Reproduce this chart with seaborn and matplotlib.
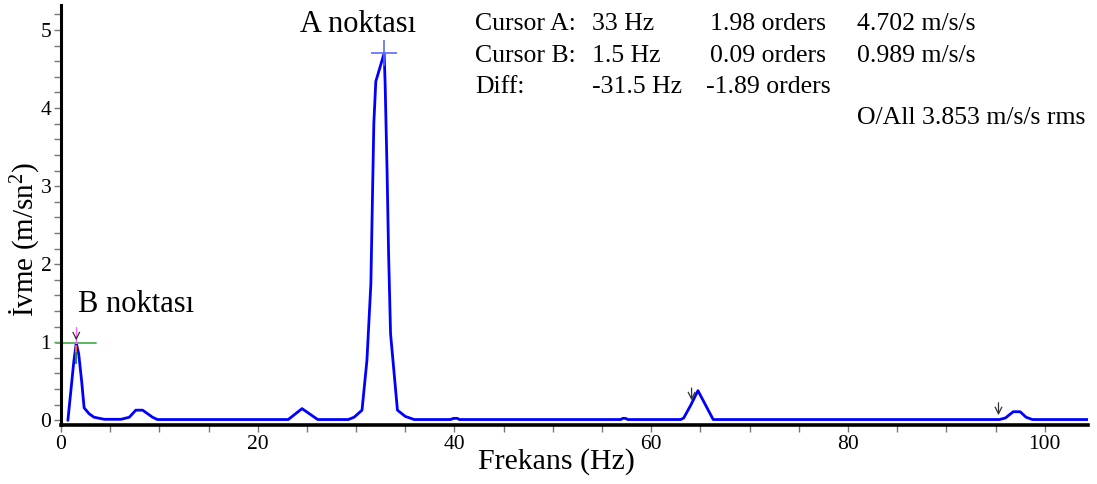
import numpy as np
import pandas as pd
import matplotlib
matplotlib.use("Agg")
import matplotlib.pyplot as plt
import seaborn as sns

# ---- data ----
freq_hz = [0.7, 1.3, 1.55, 1.8, 2.1, 2.35, 2.85, 3.35, 4.4, 6.1, 6.95, 7.6, 8.3, 9.3, 9.8,
           23.1, 24.5, 26.1, 29.2, 29.8, 30.6, 31.1, 31.5, 31.65, 31.8, 32.0, 32.85, 32.95,
           33.15, 33.3, 33.5, 34.2, 35.0, 35.9, 39.6, 39.9, 40.3, 40.5, 56.9, 57.1, 57.4,
           57.6, 63.0, 63.3, 64.0, 64.75, 66.3, 95.4, 96.0, 96.8, 97.5, 98.1, 98.75, 104.4]
accel = [0.0, 0.75, 0.99, 0.85, 0.50, 0.16, 0.085, 0.04, 0.013, 0.013, 0.04, 0.13, 0.13, 0.04, 0.01,
         0.01, 0.15, 0.01, 0.01, 0.04, 0.13, 0.77, 1.75, 2.78, 3.80, 4.34, 4.702, 4.31,
         3.17, 2.14, 1.11, 0.13, 0.05, 0.01, 0.01, 0.025, 0.025, 0.01, 0.01, 0.025, 0.025,
         0.01, 0.01, 0.03, 0.19, 0.38, 0.01, 0.01, 0.03, 0.11, 0.11, 0.04, 0.01, 0.01]

cursor_a = (32.85, 4.702)
cursor_b = (1.55, 0.989)
arrow_freqs = [64.1, 95.3]
arrow_tops = [0.45, 0.26]
arrow_bottoms = [0.22, 0.03]

x_ticks = [0, 20, 40, 60, 80, 100]
y_ticks = [0, 1, 2, 3, 4, 5]

cursor_rows = [
    ["Cursor A:", "33 Hz", "1.98 orders", "4.702 m/s/s"],
    ["Cursor B:", "1.5 Hz", "0.09 orders", "0.989 m/s/s"],
    ["Diff:", "-31.5 Hz", "-1.89 orders", ""],
]
overall_text = "O/All 3.853 m/s/s rms"

df = pd.DataFrame({"Frekans": freq_hz, "Ivme": accel})

sns.set_theme(style="ticks")
plt.rcParams["font.family"] = ["Liberation Serif", "DejaVu Serif"]
plt.rcParams["mathtext.fontset"] = "custom"
plt.rcParams["mathtext.rm"] = "Liberation Serif"
plt.rcParams["mathtext.it"] = "Liberation Serif:italic"
plt.rcParams["text.color"] = "black"
plt.rcParams["axes.labelcolor"] = "black"
plt.rcParams["xtick.labelcolor"] = "black"
plt.rcParams["ytick.labelcolor"] = "black"

W, H = 1097, 484
fig = plt.figure(figsize=(W / 100, H / 100), dpi=100)
fig.patch.set_facecolor("white")
ax = fig.add_axes([61 / W, 1 - 425 / H, (1088 - 61) / W, (425 - 5) / H])
ax.set_facecolor("white")

sns.lineplot(data=df, x="Frekans", y="Ivme", ax=ax, color="#0000ff", linewidth=2.0,
             estimator=None, sort=False)

ax.set_xlim(0, 104.4)
ax.set_ylim(-0.06, 5.32)
ax.set_xticks(x_ticks)
ax.set_yticks(y_ticks)
ax.set_xticks(np.arange(0, 105, 5), minor=True)
ax.set_yticks(np.arange(0, 5.3, 0.2), minor=True)
ax.tick_params(axis="both", which="both", direction="out", color="#777777",
               length=5, width=1, labelsize=15.5, pad=2)
for s in ["top", "right"]:
    ax.spines[s].set_visible(False)
ax.spines["left"].set_linewidth(2.2)
ax.spines["bottom"].set_linewidth(2.6)
ax.spines["left"].set_color("black")
ax.spines["bottom"].set_color("black")

ax.set_xlabel("Frekans (Hz)", fontsize=21.5)
ax.set_ylabel("İvme (m/sn$^{2}$)", fontsize=21)
ax.xaxis.set_label_coords((556 - 61) / (1088 - 61), -(462 - 425) / 420)
ax.yaxis.set_label_coords(-(61 - 24) / (1088 - 61), (425 - 239) / 420)
ax.xaxis.label.set_verticalalignment("center")
ax.yaxis.label.set_verticalalignment("center")

# cursor A marker (+)
ax.plot([cursor_a[0]], [cursor_a[1]], marker="+", markersize=19, mew=1.2,
        color="#5b6cff", linestyle="none")
# cursor B markers
ax.plot([-0.5, 3.6], [cursor_b[1], cursor_b[1]], color="#5cb85c", lw=1.4, clip_on=False)
ax.plot([cursor_b[0], cursor_b[0]], [cursor_b[1], 1.19], color="#ff66ff", lw=1.0)
ax.plot([cursor_b[0], cursor_b[0]], [0.95, 0.86], color="#ff6a00", lw=1.6)
ax.plot([cursor_b[0], cursor_b[0]], [0.86, 0.74], color="#2e8b2e", lw=1.6)
ax.annotate("", xy=(cursor_b[0], cursor_b[1]), xytext=(cursor_b[0], 1.10),
            arrowprops=dict(arrowstyle="->", color="#333333", lw=0.9))
for f, t, b in zip(arrow_freqs, arrow_tops, arrow_bottoms):
    ax.annotate("", xy=(f, b), xytext=(f, t),
                arrowprops=dict(arrowstyle="->", color="#333333", lw=0.9))


def fx(px):
    return px / W


def fy(py):
    return 1 - py / H


fig.text(fx(300), fy(32), "A noktası", fontsize=22, va="baseline", ha="left")
fig.text(fx(78), fy(312), "B noktası", fontsize=22, va="baseline", ha="left")

col_x = [475, 592, 710, 857]
row_y = [30, 62, 93]
for r, row in enumerate(cursor_rows):
    for c, txt in enumerate(row):
        if not txt:
            continue
        xx = col_x[c] - (4 if txt.startswith("-") and c == 2 else 0)
        fig.text(fx(xx), fy(row_y[r]), txt, fontsize=18.5, va="baseline", ha="left")
fig.text(fx(1085), fy(124), overall_text, fontsize=18.5, va="baseline", ha="right")

fig.savefig("out.png", dpi=100, facecolor="white")
